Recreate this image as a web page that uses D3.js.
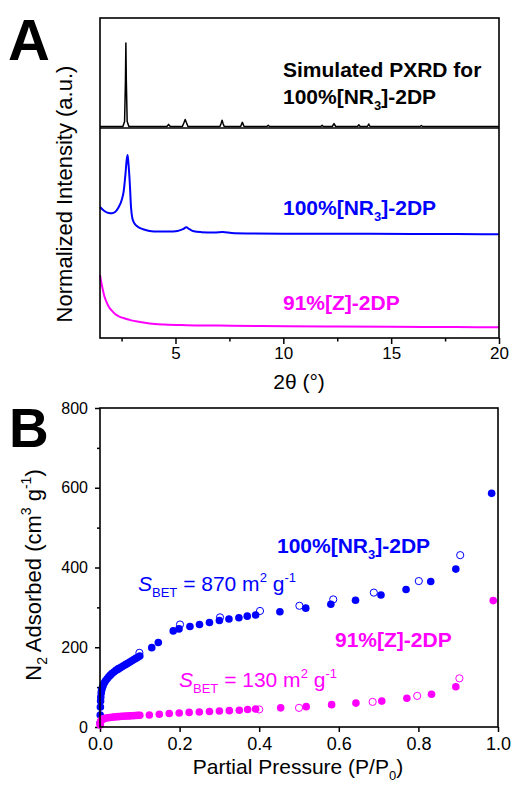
<!DOCTYPE html>
<html>
<head>
<meta charset="utf-8">
<script src="https://cdn.jsdelivr.net/npm/d3@7"></script>
<style>
  body { margin: 0; background: #fff; }
  svg { display: block; font-family: "Liberation Sans", Arial, sans-serif; }
</style>
</head>
<body>
<div id="chart"></div>
<script>
// panel A - PXRD patterns
const simTheta = [1.5, 2.56, 2.64, 2.68, 2.70, 2.72, 2.76, 2.84, 4.6, 4.68, 4.76, 5.32, 5.4, 5.45, 5.5, 5.58,
    7.06, 7.12, 7.16, 7.2, 7.26, 8.02, 8.1, 8.18, 9.24, 9.3, 9.36, 11.74, 11.8, 11.86, 12.27, 12.35, 12.43,
    13.44, 13.5, 13.56, 13.9, 13.96, 14.02, 16.34, 16.4, 16.46, 20];
const simIntensity = [0, 0, 0.06, 0.55, 1.0, 0.55, 0.06, 0, 0, 0.025, 0, 0, 0.05, 0.085, 0.05, 0,
    0, 0.04, 0.075, 0.04, 0, 0, 0.05, 0, 0, 0.015, 0, 0, 0.015, 0, 0, 0.035, 0,
    0, 0.02, 0, 0, 0.03, 0, 0, 0.012, 0, 0];

const nr3Theta = [1.5, 1.7, 1.9, 2.05, 2.2, 2.35, 2.5, 2.6, 2.68, 2.74, 2.78, 2.82, 2.88, 2.94, 3.0, 3.1, 3.25,
    3.5, 3.8, 4.2, 4.7, 5.1, 5.35, 5.5, 5.65, 5.85, 6.2, 6.8, 7.2, 7.6, 8.3, 10, 12, 14, 16, 18, 20];
const nr3Intensity = [0.624, 0.605, 0.595, 0.594, 0.6, 0.62, 0.655, 0.7, 0.78, 0.85, 0.872, 0.83, 0.74, 0.62,
    0.57, 0.545, 0.53, 0.518, 0.51, 0.507, 0.507, 0.51, 0.518, 0.527, 0.518, 0.508, 0.504, 0.502, 0.505, 0.5,
    0.498, 0.497, 0.496, 0.496, 0.495, 0.495, 0.494];

const zTheta = [1.5, 1.55, 1.62, 1.7, 1.8, 1.9, 2.05, 2.2, 2.4, 2.65, 2.95, 3.3, 3.8, 4.5, 5.5, 7, 9, 12, 15, 18, 20];
const zIntensity = [0.3, 0.27, 0.235, 0.2, 0.172, 0.15, 0.13, 0.114, 0.102, 0.093, 0.084, 0.077, 0.069, 0.064,
    0.061, 0.059, 0.057, 0.055, 0.053, 0.052, 0.051];

const thetaTicks = [5, 10, 15, 20];
const thetaMinorTicks = [2.5, 7.5, 12.5, 17.5];

// panel B - N2 isotherms (filled = adsorption, open = desorption)
const nr3AdsP = [0.0003, 0.0006, 0.001, 0.0015, 0.002, 0.003, 0.004, 0.006, 0.008, 0.011, 0.014, 0.018, 0.022,
    0.026, 0.03, 0.035, 0.04, 0.045, 0.05, 0.055, 0.06, 0.065, 0.07, 0.075, 0.08, 0.085, 0.09, 0.095, 0.1, 0.13,
    0.1465, 0.184, 0.1985, 0.226, 0.25, 0.275, 0.3, 0.324, 0.349, 0.37, 0.391, 0.452, 0.517, 0.58, 0.642, 0.706,
    0.769, 0.831, 0.894, 0.984];
const nr3AdsV = [10, 30, 50, 65, 75, 85, 92, 99, 105, 111, 116, 121, 126, 130, 134, 138, 142, 145, 148, 151,
    154, 157, 160, 163, 166, 169, 172, 175, 178, 199, 212, 241, 246, 252, 257, 262, 267, 271, 274, 278,
    281, 289, 298, 308, 318, 331, 345, 365, 396, 586];
const nr3DesP = [0.046, 0.099, 0.201, 0.3015, 0.402, 0.501, 0.586, 0.688, 0.801, 0.905];
const nr3DesV = [146, 186, 257, 275, 291, 304, 320, 337, 366, 431];

const zAdsP = [0.0003, 0.0006, 0.001, 0.002, 0.004, 0.007, 0.01, 0.015, 0.02, 0.025, 0.03, 0.035, 0.04, 0.045,
    0.05, 0.055, 0.06, 0.065, 0.07, 0.075, 0.08, 0.085, 0.09, 0.095, 0.1, 0.124, 0.149, 0.174, 0.199, 0.224,
    0.2495, 0.275, 0.3, 0.325, 0.35, 0.371, 0.391, 0.454, 0.518, 0.582, 0.643, 0.708, 0.771, 0.833, 0.894, 0.988];
const zAdsV = [5, 9, 12, 15, 18, 20, 21, 22.5, 23.3, 24, 24.6, 25.1, 25.6, 26, 26.4, 26.8, 27.1, 27.4, 27.7, 28,
    28.3, 28.6, 28.9, 29.2, 29.5, 30, 32, 34, 35, 36.6, 37.6, 39, 40, 41, 42, 44, 45, 48, 51, 56,
    60, 65, 72, 82, 101, 317];
const zDesP = [0.40, 0.50, 0.685, 0.797, 0.903];
const zDesV = [44, 48, 63, 78, 122];

const pTicks = [0, 0.2, 0.4, 0.6, 0.8, 1.0];
const nTicks = [0, 200, 400, 600, 800];
const nMinorTicks = [100, 300, 500, 700];

const BLUE = '#0000ff';
const MAGENTA = '#ff00ff';

const width = 512, height = 785;

const svg = d3.select('#chart').append('svg')
    .attr('width', width)
    .attr('height', height)
    .attr('viewBox', [0, 0, width, height]);

// write text made of parts: {t, sub, sup, it}
function richText(g, x, y, parts, opts) {
    const text = g.append('text')
        .attr('x', x)
        .attr('y', y)
        .attr('font-size', opts.size)
        .attr('font-weight', opts.bold ? 'bold' : null)
        .attr('fill', opts.color || '#000')
        .attr('text-anchor', opts.anchor || 'start');
    if (opts.rotate) text.attr('transform', `rotate(-90 ${x} ${y})`);
    parts.forEach(p => {
        const span = text.append('tspan').text(p.t);
        if (p.sub || p.sup) {
            span.attr('font-size', Math.round(opts.size * 0.62))
                .attr('baseline-shift', p.sub ? '-0.45em' : '0.7em');
        }
        if (p.it) span.attr('font-style', 'italic');
    });
    return text;
}

function styleAxis(g, fontSize) {
    g.select('.domain').remove();
    g.attr('font-size', fontSize).attr('font-family', null);
    g.selectAll('.tick line').attr('stroke', '#000').attr('stroke-width', 1.5);
    g.selectAll('.tick text').attr('fill', '#000');
}

// ---------- panel A ----------
const A = { left: 100, right: 499, top: 18, split: 128, bottom: 338 };

const xA = d3.scaleLinear().domain([1.5, 20]).range([A.left, A.right]);
const ySim = d3.scaleLinear().domain([0, 1]).range([126.5, 43]);
const yExp = d3.scaleLinear().domain([0, 1]).range([A.bottom, A.split]);

const gA = svg.append('g').attr('class', 'panelA');

gA.append('g')
    .attr('transform', `translate(0,${A.bottom})`)
    .call(d3.axisBottom(xA).tickValues(thetaMinorTicks).tickSize(3.5).tickSizeOuter(0).tickFormat(''))
    .call(g => styleAxis(g, 17));
gA.append('g')
    .attr('transform', `translate(0,${A.bottom})`)
    .call(d3.axisBottom(xA).tickValues(thetaTicks).tickSize(6).tickSizeOuter(0).tickPadding(3))
    .call(g => styleAxis(g, 17));

const lineA = (xs, ys, yScale) => d3.line()
    .x((d, i) => xA(xs[i]))
    .y(d => yScale(d))(ys);

gA.append('path')
    .attr('d', lineA(simTheta, simIntensity, ySim))
    .attr('fill', 'none')
    .attr('stroke', '#000')
    .attr('stroke-width', 1.5)
    .attr('stroke-linejoin', 'round');

gA.append('path')
    .attr('d', d3.line().curve(d3.curveMonotoneX).x((d, i) => xA(nr3Theta[i])).y(d => yExp(d))(nr3Intensity))
    .attr('fill', 'none')
    .attr('stroke', BLUE)
    .attr('stroke-width', 2)
    .attr('stroke-linejoin', 'round');

gA.append('path')
    .attr('d', d3.line().curve(d3.curveMonotoneX).x((d, i) => xA(zTheta[i])).y(d => yExp(d))(zIntensity))
    .attr('fill', 'none')
    .attr('stroke', MAGENTA)
    .attr('stroke-width', 2)
    .attr('stroke-linejoin', 'round');

// frame + separator between simulated and measured patterns
gA.append('rect')
    .attr('x', A.left).attr('y', A.top)
    .attr('width', A.right - A.left).attr('height', A.bottom - A.top)
    .attr('fill', 'none').attr('stroke', '#000').attr('stroke-width', 1.6);
gA.append('line')
    .attr('x1', A.left).attr('x2', A.right)
    .attr('y1', A.split).attr('y2', A.split)
    .attr('stroke', '#000').attr('stroke-width', 1.4);

richText(gA, 283, 77, [{ t: 'Simulated PXRD for' }], { size: 21, bold: true });
richText(gA, 283, 104, [{ t: '100%[NR' }, { t: '3', sub: true }, { t: ']-2DP' }], { size: 21, bold: true });
richText(gA, 283, 215, [{ t: '100%[NR' }, { t: '3', sub: true }, { t: ']-2DP' }], { size: 21, bold: true, color: BLUE });
richText(gA, 283, 310, [{ t: '91%[Z]-2DP' }], { size: 21, bold: true, color: MAGENTA });

richText(gA, 299, 389, [{ t: '2θ (°)' }], { size: 21, anchor: 'middle' });
richText(gA, 72, 194, [{ t: 'Normalized Intensity (a.u.)' }], { size: 22, anchor: 'middle', rotate: true });

gA.append('text')
    .attr('x', 8).attr('y', 60)
    .attr('font-size', 58).attr('font-weight', 'bold')
    .text('A');

// ---------- panel B ----------
const B = { left: 100, right: 498, top: 408, bottom: 727 };

const xB = d3.scaleLinear().domain([0, 1]).range([B.left, B.right]);
const yB = d3.scaleLinear().domain([0, 800]).range([B.bottom, B.top]);

const gB = svg.append('g').attr('class', 'panelB');

gB.append('g')
    .attr('transform', `translate(0,${B.bottom})`)
    .call(d3.axisBottom(xB).tickValues(pTicks).tickSize(5).tickSizeOuter(0).tickPadding(5).tickFormat(d3.format('.1f')))
    .call(g => styleAxis(g, 18));
gB.append('g')
    .attr('transform', `translate(${B.left},0)`)
    .call(d3.axisLeft(yB).tickValues(nMinorTicks).tickSize(3).tickSizeOuter(0).tickFormat(''))
    .call(g => styleAxis(g, 16));
gB.append('g')
    .attr('transform', `translate(${B.left},0)`)
    .call(d3.axisLeft(yB).tickValues(nTicks).tickSize(5).tickSizeOuter(0).tickPadding(7))
    .call(g => styleAxis(g, 16));

function scatter(g, ps, vs, color, open) {
    g.append('g')
        .selectAll('circle')
        .data(vs)
        .join('circle')
        .attr('cx', (d, i) => xB(ps[i]))
        .attr('cy', d => yB(d))
        .attr('r', open ? 3.6 : 3.8)
        .attr('fill', open ? 'none' : color)
        .attr('stroke', open ? color : 'none')
        .attr('stroke-width', 1);
}

scatter(gB, nr3DesP, nr3DesV, BLUE, true);
scatter(gB, nr3AdsP, nr3AdsV, BLUE, false);
scatter(gB, zDesP, zDesV, MAGENTA, true);
scatter(gB, zAdsP, zAdsV, MAGENTA, false);

gB.append('rect')
    .attr('x', B.left).attr('y', B.top)
    .attr('width', B.right - B.left).attr('height', B.bottom - B.top)
    .attr('fill', 'none').attr('stroke', '#000').attr('stroke-width', 1.6);

richText(gB, 277, 553, [{ t: '100%[NR' }, { t: '3', sub: true }, { t: ']-2DP' }], { size: 21, bold: true, color: BLUE });
richText(gB, 138, 591, [{ t: 'S', it: true }, { t: 'BET', sub: true }, { t: ' = 870 m' }, { t: '2', sup: true },
    { t: ' g' }, { t: '-1', sup: true }], { size: 21, color: BLUE });
richText(gB, 335, 647, [{ t: '91%[Z]-2DP' }], { size: 21, bold: true, color: MAGENTA });
richText(gB, 179, 687, [{ t: 'S', it: true }, { t: 'BET', sub: true }, { t: ' = 130 m' }, { t: '2', sup: true },
    { t: ' g' }, { t: '-1', sup: true }], { size: 21, color: MAGENTA });

richText(gB, 298, 774, [{ t: 'Partial Pressure (P/P' }, { t: '0', sub: true }, { t: ')' }], { size: 21, anchor: 'middle' });
richText(gB, 41, 575, [{ t: 'N' }, { t: '2', sub: true }, { t: ' Adsorbed (cm' }, { t: '3', sup: true },
    { t: ' g' }, { t: '-1', sup: true }, { t: ')' }], { size: 22, anchor: 'middle', rotate: true });

gB.append('text')
    .attr('x', 9).attr('y', 447)
    .attr('font-size', 55).attr('font-weight', 'bold')
    .text('B');
</script>
</body>
</html>
